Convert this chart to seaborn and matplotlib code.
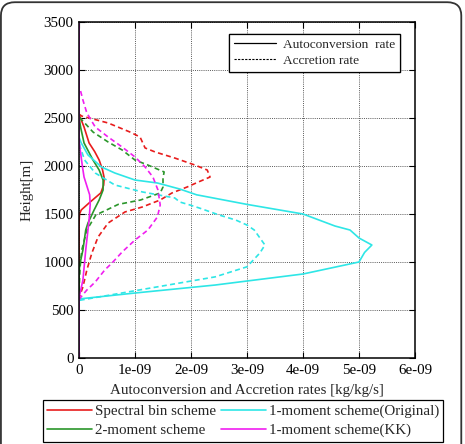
import pandas as pd
import matplotlib
matplotlib.use("Agg")
import matplotlib.pyplot as plt
from matplotlib.lines import Line2D
from matplotlib.patches import FancyBboxPatch
import seaborn as sns

# ---------------- data (rates in 1e-9 kg/kg/s, heights in m) ----------------
SCHEMES = ["Spectral bin scheme", "2-moment scheme",
           "1-moment scheme(Original)", "1-moment scheme(KK)"]
PROCESSES = ["Autoconversion", "Accretion"]

spec_auto_h = [0, 1400, 1500, 1542, 1615, 1720, 1800, 1875, 1960, 2062, 2150, 2240, 2406, 2510, 2530, 3500]
spec_auto_x = [0, 0, 0.01, 0.04, 0.18, 0.39, 0.44, 0.45, 0.42, 0.36, 0.28, 0.18, 0.09, 0.02, 0, 0]

spec_accr_h = [0, 580, 625, 740, 917, 1094, 1260, 1406, 1521, 1573, 1646, 1719, 1781, 1833, 1885,
               1958, 2010, 2083, 2146, 2188, 2302, 2354, 2448, 2520, 2540, 3500]
spec_accr_x = [0, 0, 0.0, 0.07, 0.14, 0.23, 0.34, 0.52, 0.82, 1.13, 1.45, 1.66, 1.93, 2.13, 2.34,
               2.29, 2.07, 1.71, 1.36, 1.18, 1.09, 0.91, 0.52, 0.05, 0, 0]

two_auto_h = [0, 900, 990, 1125, 1333, 1406, 1542, 1646, 1750, 1854, 1958, 2062, 2240, 2400, 2510, 3500]
two_auto_x = [0, 0, 0.02, 0.07, 0.12, 0.16, 0.27, 0.36, 0.43, 0.43, 0.36, 0.25, 0.09, 0.03, 0, 0]

two_accr_h = [0, 650, 700, 948, 1125, 1333, 1490, 1530, 1600, 1646, 1719, 1781, 1875, 1938,
              2010, 2062, 2167, 2250, 2354, 2500, 2520, 3500]
two_accr_x = [0, 0, 0.0, 0.02, 0.05, 0.14, 0.3, 0.45, 0.7, 1.1, 1.45, 1.5, 1.5, 1.52,
              1.23, 1.0, 0.77, 0.52, 0.25, 0.02, 0, 0]

orig_auto_h = [0, 600, 615, 677, 760, 802, 875, 1000, 1100, 1177, 1250, 1333, 1375, 1500, 1600,
               1700, 1760, 1823, 1854, 1927, 1990, 2115, 2240, 2300, 3500]
orig_auto_x = [0, 0, 0.0, 1.0, 2.43, 3.0, 4.0, 5.0, 5.1, 5.23, 5.0, 4.84, 4.57, 4.0, 3.0,
               2.1, 1.8, 1.4, 1.0, 0.64, 0.4, 0.16, 0.04, 0, 0]

orig_accr_h = [0, 580, 600, 845, 950, 1094, 1177, 1333, 1385, 1437, 1490, 1562, 1594, 1625, 1667,
               1730, 1802, 1927, 2062, 2200, 2260, 3500]
orig_accr_x = [0, 0, 0.0, 2.43, 3.0, 3.23, 3.32, 3.13, 3.0, 2.8, 2.5, 2.15, 1.98, 1.8, 1.71,
               1.13, 0.64, 0.29, 0.1, 0.02, 0, 0]

kk_auto_h = [0, 600, 625, 812, 1125, 1437, 1600, 1700, 1885, 2000, 2240, 2300, 3500]
kk_auto_x = [0, 0, 0.0, 0.07, 0.12, 0.18, 0.2, 0.19, 0.09, 0.06, 0.005, 0, 0]

kk_accr_h = [0, 600, 625, 708, 792, 917, 990, 1104, 1229, 1333, 1469, 1594, 1750, 1885, 1990,
             2094, 2198, 2302, 2406, 2552, 2687, 2800, 2820, 3500]
kk_accr_x = [0, 0, 0.02, 0.14, 0.29, 0.46, 0.59, 0.77, 1.0, 1.23, 1.4, 1.45, 1.41, 1.32, 1.18,
             1.0, 0.77, 0.52, 0.29, 0.14, 0.07, 0.02, 0, 0]

X_TICKS = [0, 1e-9, 2e-9, 3e-9, 4e-9, 5e-9, 6e-9]
X_TICKLABELS = ["0", "1e-09", "2e-09", "3e-09", "4e-09", "5e-09", "6e-09"]
Y_TICKS = [0, 500, 1000, 1500, 2000, 2500, 3000, 3500]

# ---------------- style ----------------
COLORS = {SCHEMES[0]: "#e81c1c", SCHEMES[1]: "#2a962a",
          SCHEMES[2]: "#2ee6e6", SCHEMES[3]: "#f01ef0"}
DASHES = {"Autoconversion": "", "Accretion": (3, 2)}
FONT = 10.8

series = [
    (SCHEMES[0], "Autoconversion", spec_auto_h, spec_auto_x),
    (SCHEMES[0], "Accretion", spec_accr_h, spec_accr_x),
    (SCHEMES[1], "Autoconversion", two_auto_h, two_auto_x),
    (SCHEMES[1], "Accretion", two_accr_h, two_accr_x),
    (SCHEMES[2], "Autoconversion", orig_auto_h, orig_auto_x),
    (SCHEMES[2], "Accretion", orig_accr_h, orig_accr_x),
    (SCHEMES[3], "Autoconversion", kk_auto_h, kk_auto_x),
    (SCHEMES[3], "Accretion", kk_accr_h, kk_accr_x),
]
frames = []
for scheme, proc, h, x in series:
    frames.append(pd.DataFrame({"scheme": scheme, "process": proc,
                                "height": h, "rate": [v * 1e-9 for v in x]}))
df = pd.concat(frames, ignore_index=True)

sns.set_theme(style="ticks")
plt.rcParams["font.family"] = ["Liberation Serif", "DejaVu Serif"]
plt.rcParams["font.size"] = FONT

fig = plt.figure(figsize=(4.65, 4.44), dpi=100)
ax = fig.add_axes([79 / 465, 1 - 358 / 444, 336 / 465, 336 / 444])

sns.lineplot(data=df, x="rate", y="height", hue="scheme", style="process",
             hue_order=SCHEMES, style_order=PROCESSES, palette=COLORS, dashes=DASHES,
             units="scheme", estimator=None, sort=False, orient="y",
             linewidth=1.2, legend=False, ax=ax)

ax.set_xlim(0, 6e-9)
ax.set_ylim(0, 3500)
ax.set_xticks(X_TICKS)
ax.set_xticklabels(X_TICKLABELS)
ax.set_yticks(Y_TICKS)
ax.tick_params(direction="in", top=True, right=True, length=4, width=0.8,
               labelsize=FONT, colors="black", pad=4)
ax.grid(True, linestyle=(0, (1, 1.2)), color="0.35", linewidth=0.7)
for s in ax.spines.values():
    s.set_linewidth(1.1)
    s.set_color("black")
ax.set_xlabel("Autoconversion and Accretion rates [kg/kg/s]", fontsize=FONT, labelpad=5)
ax.set_ylabel("Height[m]", fontsize=FONT, labelpad=7)

# inner legend (line style)
style_handles = [Line2D([], [], color="black", lw=0.9),
                 Line2D([], [], color="black", lw=0.8, dashes=(2, 1.2))]
leg1 = ax.legend(style_handles, ["Autoconversion  rate", "Accretion rate"],
                 loc="upper right", bbox_to_anchor=(0.955, 0.965), fontsize=9.6,
                 frameon=True, fancybox=False, edgecolor="black", framealpha=1,
                 handlelength=3.2, handletextpad=0.5, borderpad=0.35, labelspacing=0.3,
                 borderaxespad=0)
leg1.get_frame().set_linewidth(0.9)
ax.add_artist(leg1)

# bottom legend (schemes)
scheme_handles = [Line2D([], [], color=COLORS[s], lw=1.2) for s in SCHEMES]
leg2 = fig.legend(scheme_handles, SCHEMES, ncol=2, loc="center",
                  bbox_to_anchor=(243 / 465, 1 - 421 / 444), fontsize=FONT,
                  frameon=True, fancybox=False, edgecolor="black", framealpha=1,
                  handlelength=3.0, handletextpad=0.2, columnspacing=0.3,
                  borderpad=0.3, labelspacing=0.35, borderaxespad=0)
leg2.get_frame().set_linewidth(0.9)

# rounded outer frame
fig.patches.append(FancyBboxPatch((0.002, -0.05), 0.99, 1.045,
                                  boxstyle="round,pad=0,rounding_size=0.03",
                                  transform=fig.transFigure, fill=False,
                                  edgecolor="#333333", linewidth=1.3))

fig.savefig("out.png", dpi=100)
